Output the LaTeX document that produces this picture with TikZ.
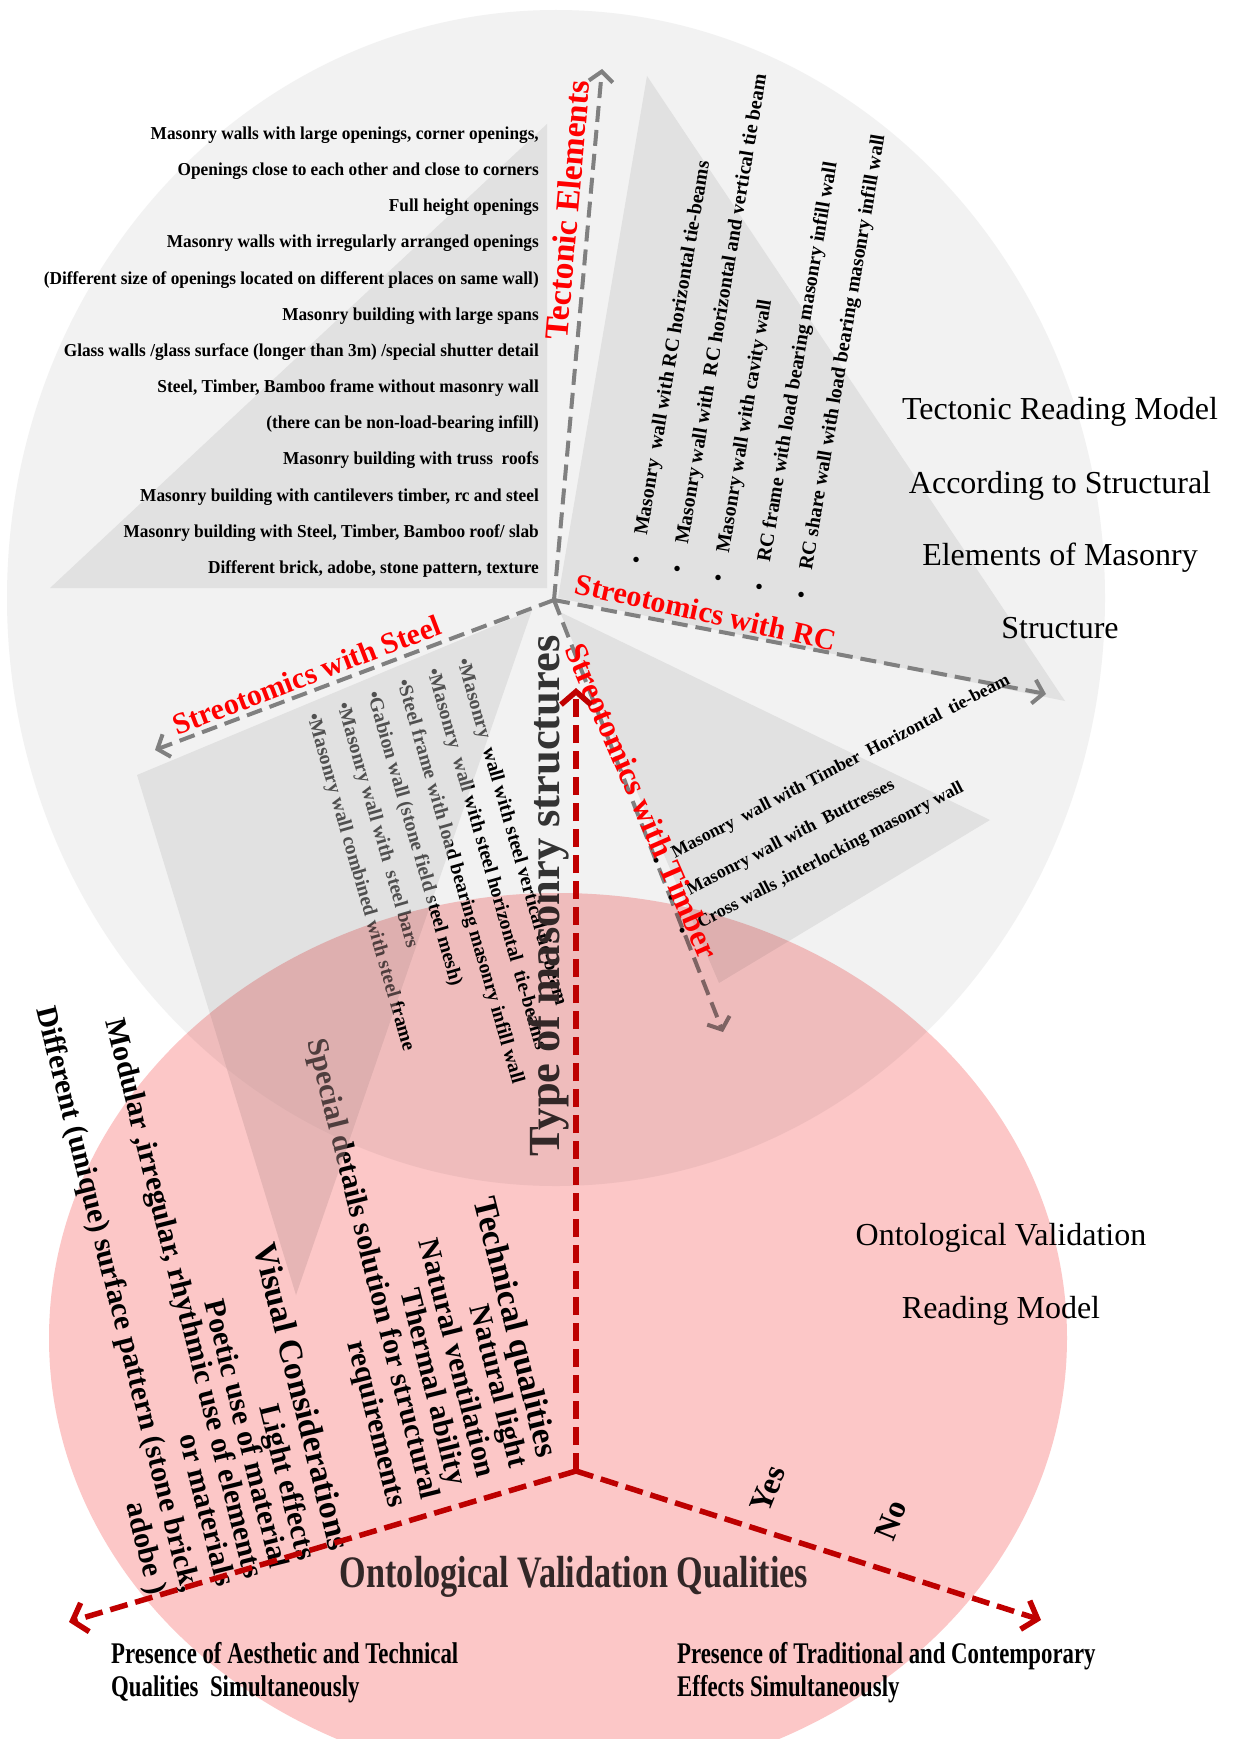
\documentclass[tikz,border=0pt]{standalone}
\usepackage{fontspec}
\setmainfont{Liberation Serif}
\usepackage{graphicx}
\usetikzlibrary{arrows.meta}

\definecolor{circgray}{RGB}{242,242,242}
\definecolor{trigray}{RGB}{225,225,225}
\definecolor{axisgray}{RGB}{128,128,128}
\definecolor{axisred}{RGB}{192,0,0}
\definecolor{labelred}{RGB}{255,0,0}
\definecolor{pinkfill}{RGB}{252,199,199}
\definecolor{darktext}{RGB}{51,51,51}
\definecolor{overlaygray}{RGB}{200,200,200}

\newcommand{\pxsize}[1]{\fontsize{#1}{#1}\selectfont}
\newcommand{\narrowtxt}[1]{\scalebox{0.95}[1]{#1}}

\begin{document}
\begin{tikzpicture}[x=1pt,y=-1pt,
  tecitem/.style={font=\pxsize{18.2}\bfseries, anchor=base east, inner sep=0pt},
  rcitem/.style={font=\pxsize{20}\bfseries, rotate=80.5, anchor=base west, inner sep=0pt},
  timitem/.style={font=\pxsize{18}\bfseries, rotate=27.5, anchor=base west, inner sep=0pt},
  stitem/.style={font=\pxsize{19.8}\bfseries, rotate=-74, anchor=base west, inner sep=0pt},
  qitem/.style={font=\pxsize{30}\bfseries, rotate=-76, anchor=base east, inner sep=0pt},
  qhead/.style={qitem, font=\pxsize{33.5}\bfseries},
  redlabel/.style={font=\pxsize{30}\bfseries, text=labelred, inner sep=0pt},
  title/.style={font=\pxsize{32}, anchor=base, inner sep=0pt},
  presence/.style={font=\pxsize{30}\bfseries, anchor=base west, inner sep=0pt},
  yesno/.style={font=\pxsize{32}\bfseries, rotate=68, inner sep=0pt},
  grayaxis/.style={draw=axisgray, line width=4pt, dash pattern=on 16pt off 8pt,
    -{Straight Barb[length=10pt,width=24pt]}},
  redaxis/.style={draw=axisred, line width=5.5pt, dash pattern=on 18pt off 8pt,
    -{Straight Barb[length=13pt,width=30pt]}},
]
\useasboundingbox (0,0) rectangle (1236,1739);
\fill[white] (0,0) rectangle (1236,1739);

% ---------- key points ----------
\coordinate (grayC) at (556,598);
\coordinate (pinkC) at (558,1338);
\coordinate (O) at (554,600);
\coordinate (tecTip) at (602,69);
\coordinate (rcTip) at (1046,694);
\coordinate (stTip) at (155,750);
\coordinate (tiTip) at (723,1032);
\coordinate (R) at (576,1471);
\coordinate (rUp) at (576,688);
\coordinate (rLeft) at (69,1622);
\coordinate (rRight) at (1041,1620);

% ---------- tectonic reading model disc ----------
\fill[circgray] (grayC) ellipse [x radius=549pt, y radius=588pt];

% sectors of the structural families
\fill[trigray] (50,588) -- (547,588) -- (547,124) -- cycle;
\fill[trigray] (647,76) -- (1065,701) -- (558,598) -- cycle;
\fill[trigray] (560,612) -- (990,820) -- (719,983) -- cycle;

% axes of the tectonic model
\draw[grayaxis] (O) -- (tecTip);
\draw[grayaxis] (O) -- (rcTip);
\draw[grayaxis] (O) -- (stTip);
\draw[grayaxis] (O) -- (tiTip);

% ---------- tectonic elements list ----------
\node[tecitem] (tec1)  at (539,139.3) {\narrowtxt{Masonry walls with large openings, corner openings,}};
\node[tecitem] (tec2)  at (539,175.5) {\narrowtxt{Openings close to each other and close to corners}};
\node[tecitem] (tec3)  at (539,211.6) {\narrowtxt{Full height openings}};
\node[tecitem] (tec4)  at (539,247.8) {\narrowtxt{Masonry walls with irregularly arranged openings}};
\node[tecitem] (tec5)  at (539,284.0) {\narrowtxt{(Different size of openings located on different places on same wall)}};
\node[tecitem] (tec6)  at (539,320.2) {\narrowtxt{Masonry building with large spans}};
\node[tecitem] (tec7)  at (539,356.3) {\narrowtxt{Glass walls /glass surface (longer than 3m) /special shutter detail}};
\node[tecitem] (tec8)  at (539,392.5) {\narrowtxt{Steel, Timber, Bamboo frame without masonry wall}};
\node[tecitem] (tec9)  at (539,428.7) {\narrowtxt{(there can be non-load-bearing infill)}};
\node[tecitem] (tec10) at (539,464.8) {\narrowtxt{Masonry building with truss\ \ roofs}};
\node[tecitem] (tec11) at (539,501.0) {\narrowtxt{Masonry building with cantilevers timber, rc and steel}};
\node[tecitem] (tec12) at (539,537.2) {\narrowtxt{Masonry building with Steel, Timber, Bamboo roof/ slab}};
\node[tecitem] (tec13) at (539,573.3) {\narrowtxt{Different brick, adobe, stone pattern, texture}};

% ---------- RC list ----------
\node[rcitem] (rc1) at (642,565) {•\hspace{22.5pt}Masonry\ \ wall with RC horizontal tie-beams};
\node[rcitem] (rc2) at (683,574) {•\hspace{22.5pt}Masonry wall with\ \ RC horizontal and vertical tie beam};
\node[rcitem] (rc3) at (724,583) {•\hspace{22.5pt}Masonry wall with cavity wall};
\node[rcitem] (rc4) at (765,592) {•\hspace{22.5pt}RC frame with load bearing masonry infill wall};
\node[rcitem] (rc5) at (807,600) {•\hspace{22.5pt}RC share wall with load bearing masonry infill wall};

% ---------- timber list ----------
\node[timitem] (ti1) at (656,868) {•\hspace{15pt}Masonry\ \ wall with Timber\ \ Horizontal\ \ tie-beam};
\node[timitem] (ti2) at (671,905) {•\hspace{15pt}Masonry wall with\ \ Buttresses};
\node[timitem] (ti3) at (682,938) {•\hspace{15pt}Cross walls ,interlocking masonry wall};

% ---------- steel list ----------
\node[stitem] (st1) at (457,660) {•Masonry\ \ wall with steel vertical tie-beam};
\node[stitem] (st2) at (427,670) {•Masonry\ \ wall with steel horizontal\ \ tie-beams};
\node[stitem] (st3) at (397,681) {•Steel frame with load bearing masonry infill wall};
\node[stitem] (st4) at (367,693) {•Gabion wall (stone field steel mesh)};
\node[stitem] (st5) at (337,704) {•Masonry wall with\ \ steel bars};
\node[stitem] (st6) at (307,715) {•Masonry wall combined with steel frame};

% ---------- ontological qualities ----------
\node[qhead] (q1)  at (538,1459) {Technical qualities};
\node[qitem] (q2)  at (510,1469) {Natural light};
\node[qitem] (q3)  at (478,1479) {Natural ventilation};
\node[qitem] (q4)  at (449,1487) {Thermal ability};
\node[qitem] (q5)  at (422,1501) {Special details solution for structural};
\node[qitem] (q6)  at (389,1509) {requirements};
\node[qhead] (q7)  at (330,1552) {Visual Considerations};
\node[qitem] (q8)  at (298,1562) {Light effects};
\node[qitem] (q9)  at (271,1570) {Poetic use of material};
\node[qitem] (q10) at (245,1580) {Modular ,irregular, rhythmic use of elements};
\node[qitem] (q11) at (217,1588) {or materials};
\node[qitem] (q12) at (182,1594) {Different (unique) surface pattern (stone brick,};
\node[qitem] (q13) at (149,1596) {adobe )};

% steel sector laid over its own list
\fill[overlaygray, fill opacity=0.4] (532,610) -- (137,775) -- (296,1295) -- cycle;

% ---------- axis labels ----------
\node[redlabel, rotate=85, font=\pxsize{33.5}\bfseries] (tecLabel) at (567,210) {Tectonic Elements};
\node[redlabel, rotate=-12.5] (rcLabel)  at (706,612) {Streotomics with RC};
\node[redlabel, rotate=21]    (stLabel)  at (307,675) {Streotomics with Steel};
\node[redlabel, rotate=-66.5, font=\pxsize{32}\bfseries] (tiLabel)  at (642,801) {Streotomics with Timber};

\node[font=\pxsize{44.5}\bfseries, text=darktext, rotate=90, inner sep=0pt] (typeLabel) at (549,896) {Type of masonry structures};

% ---------- ontological validation axes ----------
\draw[redaxis] (R) -- (rUp);
\draw[redaxis] (R) -- (rLeft);
\draw[redaxis] (R) -- (rRight);

\node[yesno] (yes) at (768,1489) {Yes};
\node[yesno] (no)  at (891,1520) {No};

\node[font=\pxsize{45}\bfseries, text=darktext, anchor=base, inner sep=0pt] (ovq) at (574,1587)
  {\scalebox{0.76}[1]{Ontological Validation Qualities}};

\node[presence] (presA1) at (111,1663) {\scalebox{0.76}[1]{Presence of Aesthetic and Technical}};
\node[presence] (presA2) at (111,1696) {\scalebox{0.76}[1]{Qualities\ \ Simultaneously}};
\node[presence] (presT1) at (677,1663) {\scalebox{0.76}[1]{Presence of Traditional and Contemporary}};
\node[presence] (presT2) at (677,1696) {\scalebox{0.76}[1]{Effects Simultaneously}};

% ---------- model titles ----------
\node[title] (tm1) at (1060,419) {Tectonic Reading Model};
\node[title] (tm2) at (1060,493) {According to Structural};
\node[title] (tm3) at (1060,565) {Elements of Masonry};
\node[title] (tm4) at (1060,638) {Structure};
\node[title] (om1) at (1001,1245) {Ontological Validation};
\node[title] (om2) at (1001,1318) {Reading Model};

% ---------- ontological validation disc ----------
\begin{scope}[blend mode=multiply]
  \fill[pinkfill] (pinkC) ellipse [x radius=509pt, y radius=445pt];
\end{scope}
\end{tikzpicture}
\end{document}
